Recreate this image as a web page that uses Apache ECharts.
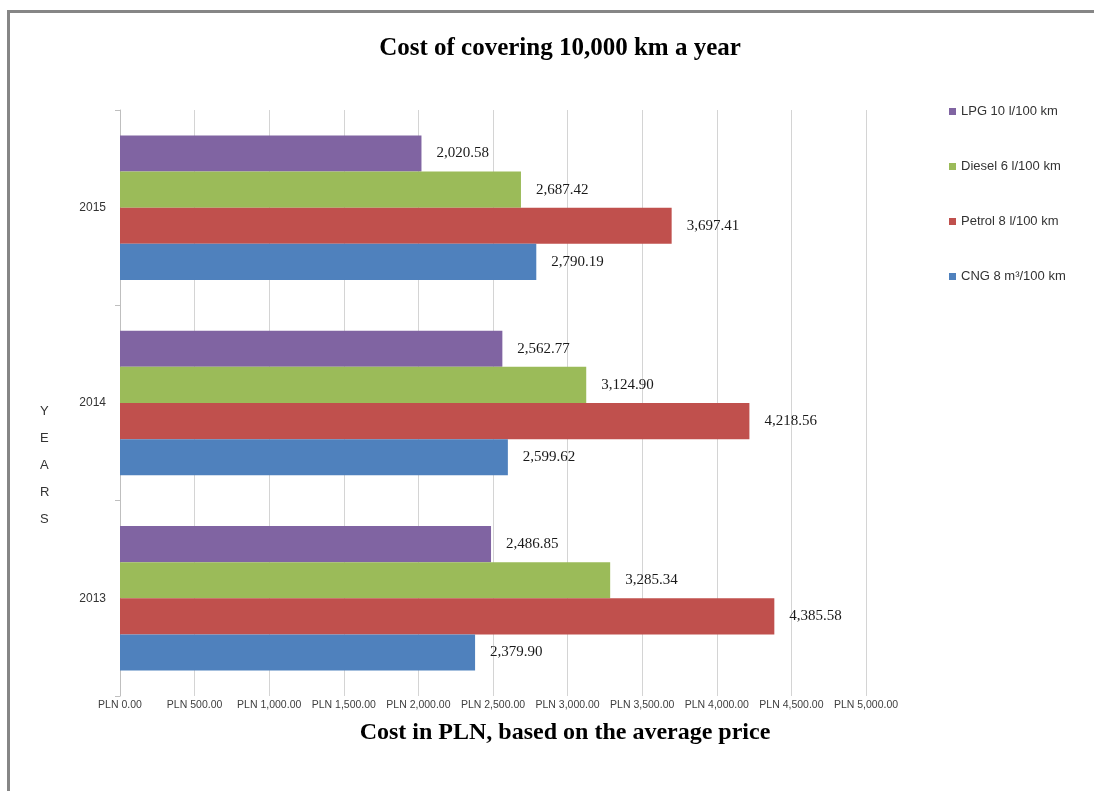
<!DOCTYPE html>
<html>
<head>
<meta charset="utf-8">
<script src="https://cdn.jsdelivr.net/npm/echarts@6/dist/echarts.min.js"></script>
<style>
  html, body { margin: 0; padding: 0; background: #fff; }
  #chart { width: 1094px; height: 791px; }
  #frame {
    position: absolute; left: 7px; top: 10px; width: 1200px; height: 900px;
    border: 3px solid #868686; pointer-events: none;
  }
</style>
</head>
<body>
<div id="chart"></div>
<div id="frame"></div>
<script>
var years = ['2013', '2014', '2015']
var lpg = [2486.85, 2562.77, 2020.58]
var diesel = [3285.34, 3124.90, 2687.42]
var petrol = [4385.58, 4218.56, 3697.41]
var cng = [2379.90, 2599.62, 2790.19]
var seriesNames = ['LPG 10 l/100 km', 'Diesel 6 l/100 km', 'Petrol 8 l/100 km', 'CNG 8 m³/100 km']
var colors = ['#8064a2', '#9bbb59', '#c0504d', '#4f81bd']

function fmt(v) {
  return v.toLocaleString('en-US', { minimumFractionDigits: 2, maximumFractionDigits: 2 })
}

var serif = '"Liberation Serif", "Times New Roman", serif'
var sans = '"Liberation Sans", Arial, sans-serif'

var labelStyle = {
  show: true,
  position: 'right',
  distance: 15,
  fontFamily: serif,
  fontSize: 15,
  color: '#1a1a1a',
  formatter: function(p) { return fmt(p.value) }
}

// first series is drawn at the top of each group
var values = [lpg, diesel, petrol, cng]
var series = values.map(function(d, i) {
  return {
    type: 'bar',
    name: seriesNames[i],
    data: d,
    barGap: 0,
    barCategoryGap: '26%',
    itemStyle: { color: colors[i] },
    label: labelStyle
  }
})

var chart = echarts.init(document.getElementById('chart'))
chart.setOption({
  animation: false,
  title: [{
    text: 'Cost of covering 10,000 km a year',
    left: 555, top: 31, textAlign: 'center',
    textStyle: { fontFamily: serif, fontSize: 25, fontWeight: 'bold', color: '#000' }
  }, {
    text: 'Cost in PLN, based on the average price',
    left: 560, top: 716, textAlign: 'center',
    textStyle: { fontFamily: serif, fontSize: 24, fontWeight: 'bold', color: '#000' }
  }],
  legend: {
    orient: 'vertical',
    left: 944, top: 100,
    itemWidth: 7, itemHeight: 7,
    itemGap: 42,
    icon: 'rect',
    data: seriesNames,
    textStyle: { fontFamily: sans, fontSize: 13, color: '#333' }
  },
  graphic: [{
    type: 'text',
    left: 40, top: 398,
    style: {
      text: 'Y\nE\nA\nR\nS',
      fontFamily: sans, fontSize: 13, lineHeight: 27,
      fill: '#333', align: 'center'
    }
  }],
  grid: { left: 120, top: 110, width: 746, height: 586, containLabel: false },
  xAxis: {
    type: 'value',
    min: 0, max: 5000, interval: 500,
    axisLine: { show: false },
    axisTick: { show: false },
    splitLine: { lineStyle: { color: '#d4d4d4', width: 1 } },
    axisLabel: {
      margin: 4,
      fontFamily: sans, fontSize: 10.5, color: '#404040',
      formatter: function(v) { return 'PLN ' + fmt(v) }
    }
  },
  yAxis: {
    type: 'category',
    data: years,
    axisLine: { show: true, lineStyle: { color: '#bfbfbf' } },
    axisTick: { show: true, length: 5, lineStyle: { color: '#bfbfbf' } },
    axisLabel: { margin: 14, fontFamily: sans, fontSize: 12, color: '#333' }
  },
  series: series
})
</script>
</body>
</html>
